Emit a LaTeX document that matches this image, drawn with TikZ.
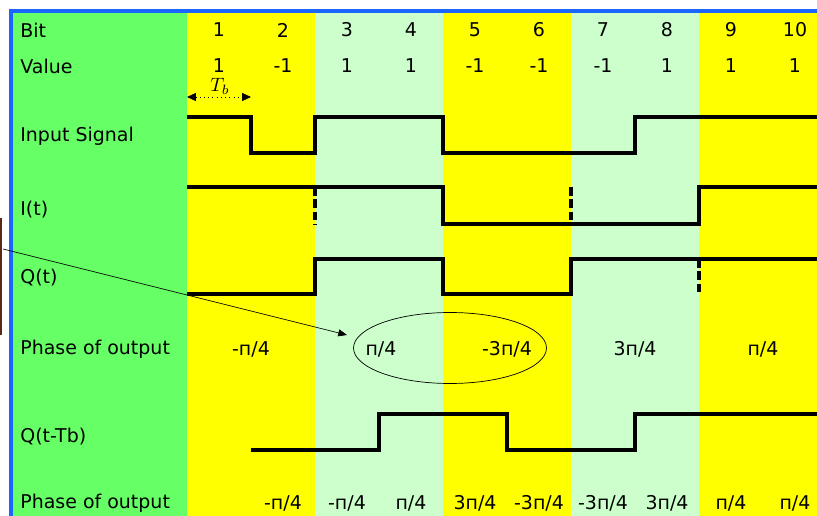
\documentclass[tikz,border=0pt]{standalone}
\usepackage{fontspec}
\setmainfont{DejaVu Sans}
\usetikzlibrary{arrows.meta,shapes.geometric}
\definecolor{labelgreen}{HTML}{66FF66}
\definecolor{bityellow}{HTML}{FFFF00}
\definecolor{palegreen}{HTML}{CCFFCC}
\definecolor{frameblue}{HTML}{1A66FF}
\definecolor{boxbrown}{HTML}{5A2814}
\tikzset{rowlabel/.style={anchor=west, inner sep=0pt, font=\fontsize{10.8}{13}\selectfont},
  cell/.style={inner sep=0pt, font=\fontsize{10.8}{13}\selectfont},
  wave/.style={line width=2.3pt, line join=miter},
  jump/.style={line width=2.3pt, dash pattern=on 5pt off 2pt},
  pair/.style={draw, ellipse, thin, minimum width=3.86cm, minimum height=1.42cm}
}
\begin{document}
\begin{tikzpicture}[x=0.02cm,y=-0.02cm]
      \useasboundingbox (0,0) rectangle (817,516);
      \clip (0,0) rectangle (817,516);
      \fill[frameblue] (9,9) rectangle (817,516);
      \fill[labelgreen] (13,13) rectangle (187,516);
      \foreach \x/\c in {187/bityellow,315/palegreen,443/bityellow,571/palegreen,699/bityellow}
        \fill[\c] (\x,13) rectangle ++(128,503);
      \node[rowlabel] (bit) at (20,30) {Bit};
      \node[rowlabel] (value) at (20,66) {Value};
      \node[rowlabel] (input) at (20,136) {Input Signal};
      \node[rowlabel] (itrack) at (20,210) {I(t)};
      \node[rowlabel] (qtrack) at (20,278) {Q(t)};
      \node[rowlabel] (phase) at (20,349) {Phase of output};
      \node[rowlabel] (qdelay) at (20,437) {Q(t-Tb)};
      \node[rowlabel] (phasetwo) at (20,503) {Phase of output};
      \foreach \v [count=\i] in {1,-1,1,1,-1,-1,-1,1,1,1} {
        \node[cell] (bit\i) at (155+64*\i,30) {\i};
        \node[cell] (val\i) at (155+64*\i,66) {\v};
      }
      \coordinate (tbL) at (187,97);
      \coordinate (tbR) at (251,97);
      \draw[dotted, {Triangle[length=5pt,width=4.5pt]}-{Triangle[length=5pt,width=4.5pt]}] (tbL) -- (tbR);
      \node[scale=1.1, inner sep=0pt] (tb) at (220,86) {$T_b$};
      \draw[wave] (187,117) -- (251,117) -- (251,153) -- (315,153) -- (315,117) -- (443,117) -- (443,153) -- (635,153) -- (635,117) -- (817,117);
      \draw[wave] (187,187) -- (443,187) -- (443,224) -- (699,224) -- (699,187) -- (817,187);
      \draw[jump] (315,187) -- (315,224) (571,187) -- (571,224);
      \draw[wave] (187,294) -- (315,294) -- (315,259) -- (443,259) -- (443,294) -- (571,294) -- (571,259) -- (817,259);
      \draw[jump] (699,259) -- (699,294);
      \draw[wave] (251,450) -- (379,450) -- (379,414) -- (507,414) -- (507,450) -- (635,450) -- (635,414) -- (817,414);
      \node[pair] (pairs) at (450,348) {};
      \foreach \x/\p [count=\i] in {251/{-п/4},381/{п/4},507/{-3п/4},635/{3п/4},763/{п/4}}
        \node[cell] (ph\i) at (\x,349) {\p};
      \foreach \x/\p [count=\i] in {283/{-п/4},347/{-п/4},411/{п/4},475/{3п/4},539/{-3п/4},603/{-3п/4},667/{3п/4},731/{п/4},795/{п/4}}
        \node[cell] (pd\i) at (\x,503) {\p};
      \draw[boxbrown, line width=1pt] (1,218) -- (1,335);
      \coordinate (from) at (3,249);
      \coordinate (tip) at (347,335);
      \draw[thin, -{Triangle[length=5pt,width=4pt]}] (from) -- (tip);
\end{tikzpicture}
\end{document}
